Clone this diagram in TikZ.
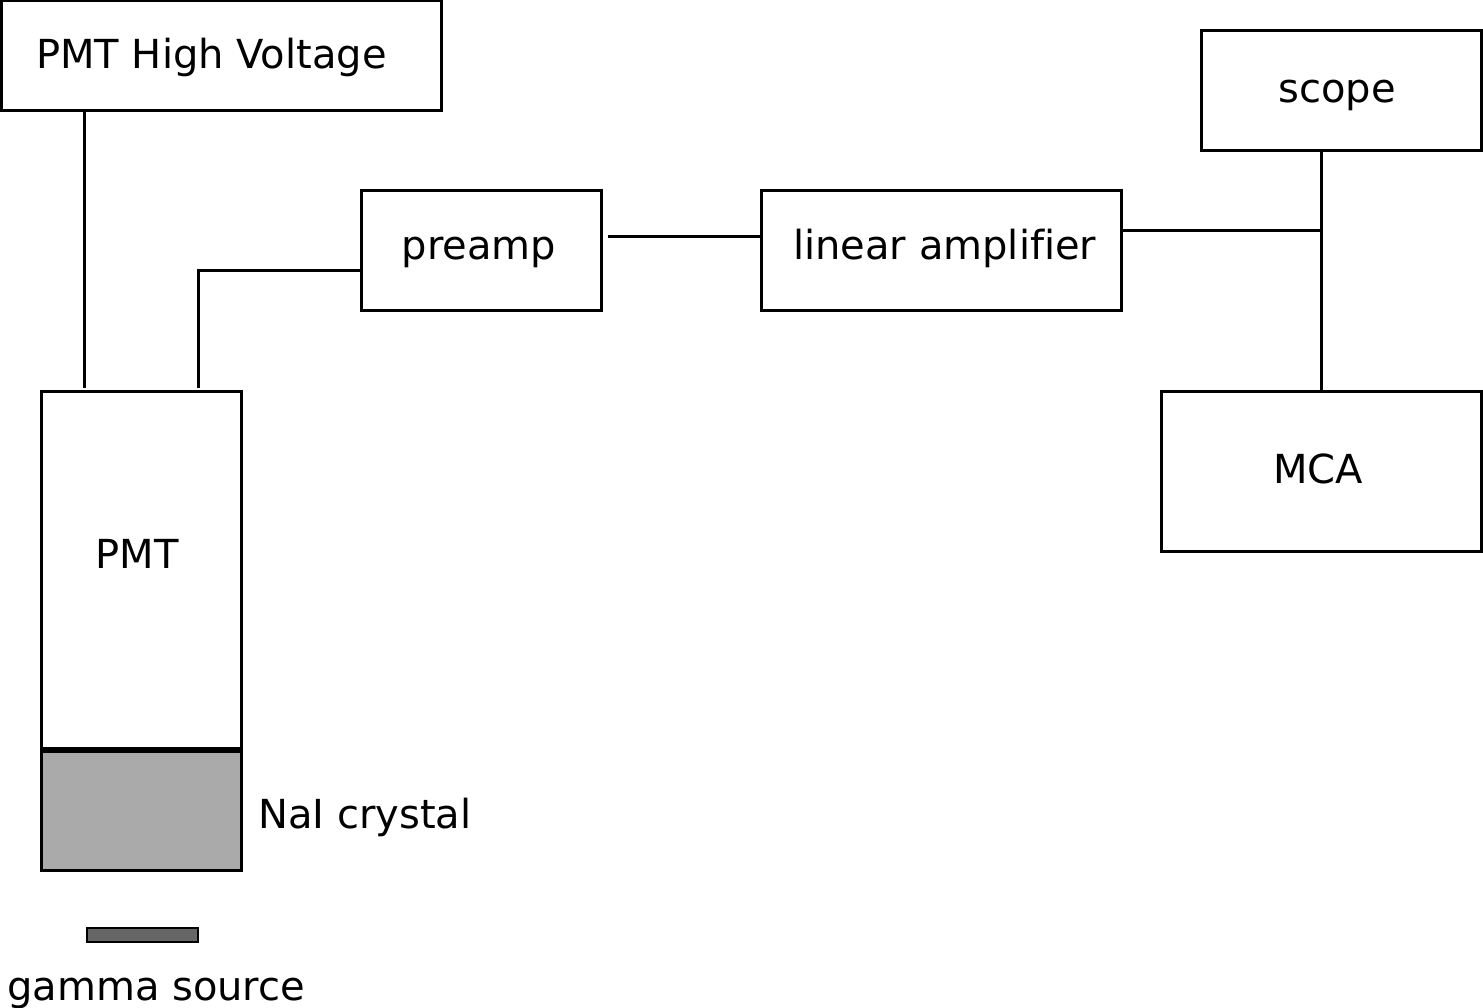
\documentclass[tikz,border=0pt]{standalone}
\usepackage{fontspec}
\setmainfont[Ligatures=CommonOff]{DejaVu Sans}
\begin{document}
\begin{tikzpicture}[x=1pt,y=-1pt,
  box/.style={draw=black, line width=3pt, inner sep=0pt, fill=white},
  wire/.style={draw=black, line width=3pt},
  lbl/.style={inner sep=0pt, anchor=base, font=\fontsize{40}{46}\selectfont}]
\useasboundingbox (0,0) rectangle (1483,1008);
% boxes
\node[box, minimum width=200pt, minimum height=357pt] (pmt) at (141,569.5) {};
\node[box, fill={rgb,255:red,170;green,170;blue,170}, minimum width=200pt, minimum height=119pt] (nai) at (141,811) {};
\node[box, minimum width=440pt, minimum height=110pt] (hv) at (221,56) {};
\node[draw=black, line width=2.5pt, fill={rgb,255:red,102;green,102;blue,102}, inner sep=0pt, minimum width=111pt, minimum height=14pt] (src) at (142.5,935) {};
\node[box, minimum width=240pt, minimum height=120pt] (pre) at (481,251) {};
\node[box, minimum width=360pt, minimum height=120pt] (lin) at (941,251) {};
\node[box, minimum width=280pt, minimum height=120pt] (scope) at (1341,91) {};
\node[box, minimum width=320pt, minimum height=160pt] (mca) at (1321,471) {};
% labels
\node[lbl, anchor=base west] (thv) at (36,69) {PMT High Voltage};
\node[lbl] (tpre) at (479,260) {preamp};
\node[lbl, anchor=base west] (tlin) at (793,260) {linear amplifier};
\node[lbl] (tscope) at (1337,103) {scope};
\node[lbl] (tmca) at (1318,483) {MCA};
\node[lbl] (tpmt) at (137,568) {PMT};
\node[lbl, anchor=base west] (tnai) at (258,828) {NaI crystal};
\node[lbl, anchor=base west] (tsrc) at (7,1000) {gamma source};
% connectors
\coordinate (hvb) at (84,388);
\draw[wire] (hv.south -| hvb) -- (hvb);
\coordinate (pmtb) at (198,388);
\draw[wire] (pre.west |- 0,271) -- (198,271) -- (pmtb);
\coordinate (pl) at (608,237);
\draw[wire] (pl) -- (lin.west |- pl);
\coordinate (jn) at (1321,231);
\draw[wire] (lin.east |- jn) -- (jn);
\draw[wire] (scope.south -| jn) -- (mca.north -| jn);
\end{tikzpicture}
\end{document}
